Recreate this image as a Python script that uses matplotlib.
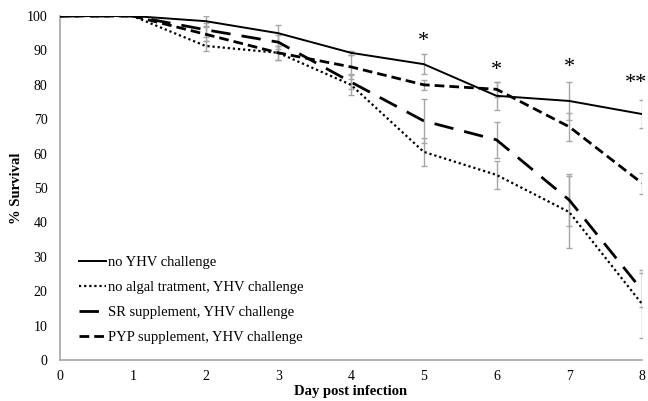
import matplotlib
matplotlib.use("Agg")
import matplotlib.pyplot as plt

# Survival (%) per day post infection
days = [0, 1, 2, 3, 4, 5, 6, 7, 8]
no_yhv = [100, 100, 98.5, 95, 89.3, 86, 76.8, 75.3, 71.5]
no_algal = [100, 100, 91.3, 89.3, 80, 60.5, 53.8, 43, 16.3]
sr_supp = [100, 100, 96, 92.4, 80.8, 69.5, 64, 46.5, 20.3]
pyp_supp = [100, 100, 94.7, 89.3, 85.2, 80, 78.7, 67.8, 51.4]

# symmetric error bars (SE)
no_yhv_err = [0, 0, 1.5, 2.5, 0.5, 3, 4, 5.6, 4]
no_algal_err = [0, 0, 1.5, 2, 3, 4, 4, 10.5, 10]
sr_err = [0, 0, 2, 2, 2, 6.5, 5.3, 7.5, 5]
pyp_err = [0, 0, 2, 2, 3.5, 1.5, 2.2, 4, 3]

# significance marks
star_days = [5, 6, 7, 8]
star_y = [92.5, 84.3, 85, 80.5]
star_txt = ["*", "*", "*", "**"]

series = [
    ("no YHV challenge", no_yhv, no_yhv_err, dict(ls="-", lw=1.4)),
    ("no algal tratment, YHV challenge", no_algal, no_algal_err, dict(ls=(0, (1, 1.3)), lw=1.6)),
    ("SR supplement, YHV challenge", sr_supp, sr_err, dict(ls=(0, (7, 4)), lw=2.0)),
    ("PYP supplement, YHV challenge", pyp_supp, pyp_err, dict(ls=(0, (3.5, 1.8)), lw=2.0)),
]

plt.rcParams["font.family"] = ["Liberation Serif", "DejaVu Serif"]

fig = plt.figure(figsize=(6.48, 4.01), dpi=100)
ax = fig.add_axes([60 / 648, 1 - 360 / 401, 582 / 648, 344 / 401])

for label, vals, err, style in series:
    ax.errorbar(days, vals, yerr=err, fmt="none", ecolor="#a6a6a6",
                elinewidth=1, capsize=2.5, capthick=1, zorder=1)
    ax.plot(days, vals, color="black", label=label, zorder=3, **style)

for d, y, t in zip(star_days, star_y, star_txt):
    # the last pair sits at the right edge; keep it inside the figure
    ha = "right" if d == days[-1] else "center"
    xd = d + 0.07 if d == days[-1] else d
    ax.text(xd, y, t, ha=ha, va="center", fontsize=16, clip_on=False)

ax.set_xlim(0, 8)
ax.set_ylim(0, 100)
ax.set_xticks(range(0, 9))
ax.set_yticks(range(0, 101, 10))
ax.tick_params(length=0, labelsize=10, pad=9)
ax.tick_params(axis="x", pad=7)
for s in ("top", "right"):
    ax.spines[s].set_visible(False)
for s in ("left", "bottom"):
    ax.spines[s].set_color("#a6a6a6")
    ax.spines[s].set_linewidth(1.2)

ax.set_xlabel("Day post infection", fontsize=10.5, fontweight="bold", labelpad=2)
ax.set_ylabel("% Survival", fontsize=10.5, fontweight="bold", labelpad=3)

ax.legend(loc="lower left", bbox_to_anchor=(0.022, 0.03), frameon=False,
          fontsize=10.5, handlelength=1.85, handletextpad=0.15, labelspacing=0.8,
          borderaxespad=0)

fig.savefig("out.png", dpi=100)
